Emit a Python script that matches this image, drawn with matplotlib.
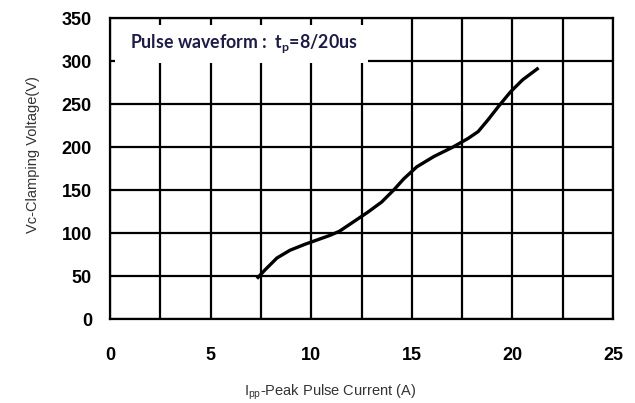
import numpy as np
import matplotlib.pyplot as plt

# peak pulse current (A) vs clamping voltage (V)
ipp = [7.3, 7.7, 8.3, 8.95, 9.7, 10.3, 10.9, 11.4, 12.1, 12.8, 13.5, 14.1, 14.6, 15.25, 16.1, 17.05, 17.8, 18.3, 18.8, 19.3, 19.9, 20.5, 21.3]
vc = [47, 57, 71, 80, 87, 92, 97, 102, 113, 124, 136, 150, 163, 177, 189, 200, 210, 218, 232, 247, 264, 278, 292]

xticks = [0, 5, 10, 15, 20, 25]
yticks = [0, 50, 100, 150, 200, 250, 300, 350]

plt.rcParams['font.family'] = ['Liberation Sans', 'DejaVu Sans']

fig = plt.figure(figsize=(6.35, 4.03), dpi=100)
ax = fig.add_axes([0.1732, 0.2084, 0.7922, 0.7469])

ax.set_xlim(0, 25)
ax.set_ylim(0, 350)
ax.set_xticks(np.arange(0, 25.1, 2.5))
ax.set_yticks(yticks)
ax.grid(True, color='black', linewidth=1.6)
ax.set_axisbelow(True)
for s in ax.spines.values():
    s.set_linewidth(1.6)

ax.tick_params(length=0, labelsize=13)
ax.tick_params(axis='y', pad=13)
ax.tick_params(axis='x', pad=20)
ax.set_xticklabels(['0', '', '5', '', '10', '', '15', '', '20', '', '25'], fontweight='bold')
ax.set_yticklabels([str(v) for v in yticks], fontweight='bold')

ax.plot(ipp, vc, color='black', linewidth=2.4, solid_capstyle='butt', zorder=3)

# white box behind the annotation
ax.add_patch(plt.Rectangle((0.25, 298), 12.55, 44, facecolor='white', edgecolor='none', zorder=2))
ax.text(1.0, 320, 'Pulse waveform :  t$_\\mathregular{p}$=8/20us', fontsize=12.8,
        fontweight='bold', color='#1c1c4a', va='center', ha='left', zorder=4,
        family=['Lato', 'DejaVu Sans'])

fig.text(330 / 635, 1 - 392 / 403, 'I$_\\mathregular{pp}$-Peak Pulse Current (A)',
         fontsize=10.5, color='#333333', ha='center', va='center')
fig.text(33 / 635, 1 - 155 / 403, 'Vc-Clamping Voltage(V)', fontsize=10.5,
         color='#333333', ha='center', va='center', rotation=90)

fig.savefig('out.png', dpi=100)
